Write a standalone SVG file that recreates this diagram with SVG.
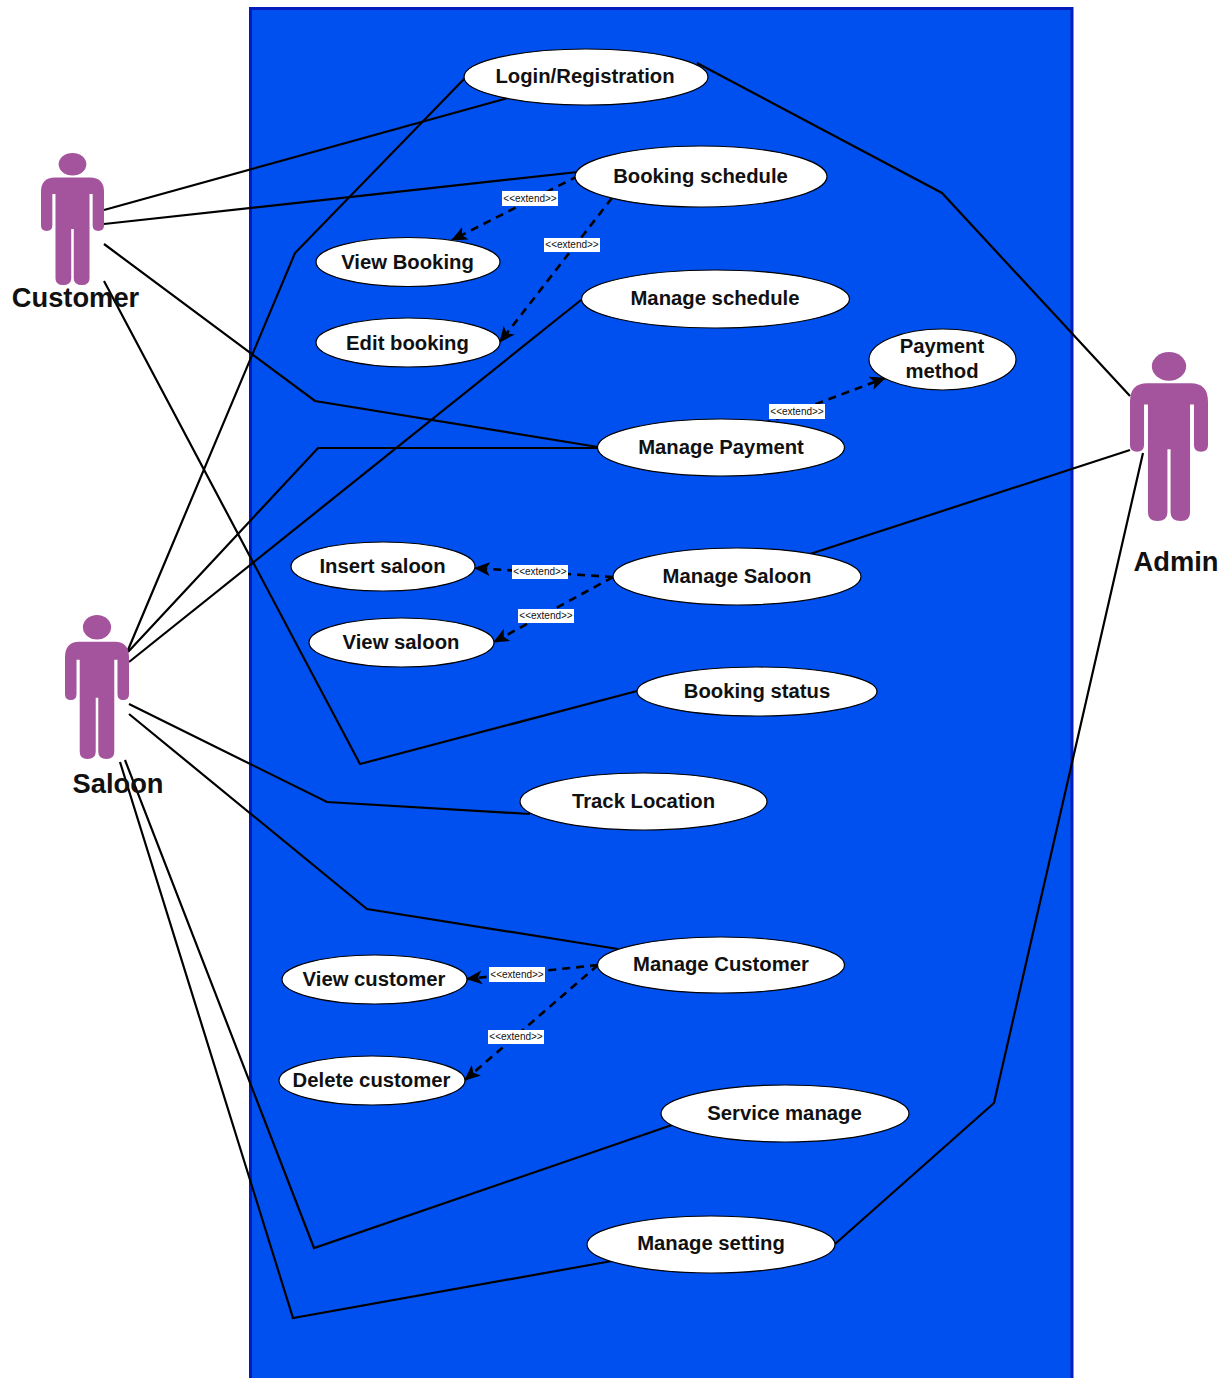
<svg xmlns="http://www.w3.org/2000/svg" width="1225" height="1378" viewBox="0 0 1225 1378">
<style>
.uc{fill:#fff;stroke:#000;stroke-width:1.2}
.t{font-family:"Liberation Sans",Arial,sans-serif;font-weight:700;font-size:20.3px;fill:#111;text-anchor:middle}
.a{font-family:"Liberation Sans",Arial,sans-serif;font-weight:700;font-size:27.3px;fill:#111;text-anchor:middle}
.c{fill:none;stroke:#000;stroke-width:2.2}
.d{fill:none;stroke:#000;stroke-width:2.6;stroke-dasharray:8 6;marker-end:url(#arr)}
.lb{fill:#fff}
.lt{font-family:"Liberation Sans",Arial,sans-serif;font-size:10px;fill:#111;text-anchor:middle}
.fig{fill:#A4549C}
</style>
<defs>
<marker id="arr" markerUnits="userSpaceOnUse" markerWidth="17" markerHeight="15" refX="15" refY="7" orient="auto"><path d="M0 0L16 7L0 14L4 7Z" fill="#000"/></marker>
<symbol id="actor" viewBox="0 0 100 200" preserveAspectRatio="none">
<ellipse class="fig" cx="50" cy="17" rx="22" ry="17"/>
<path class="fig" d="M22 37H78Q100 37 100 59V110Q100 118 91 118Q82 118 82 110V62H77V190Q77 200 65 200Q52 200 52 190V115H48V190Q48 200 35 200Q23 200 23 190V62H18V110Q18 118 9 118Q0 118 0 110V59Q0 37 22 37Z"/>
</symbol>
</defs>
<rect id="boundary" x="250.500" y="8.500" width="821.500" height="1380" fill="#0050EF" stroke="#001DBC" stroke-width="3"/>
<g id="connectors">
<path class="c" d="M104 210L508 98"/>
<path class="c" d="M104 224L578 172"/>
<path class="c" d="M104 244L315 401L598 447"/>
<path class="c" d="M104 281L360 764L637 691"/>
<path class="c" d="M128 650L295 253L466 77"/>
<path class="c" d="M128 652L318 448H598"/>
<path class="c" d="M129 662L581 300"/>
<path class="c" d="M129 704L327 802L530 814"/>
<path class="c" d="M129 714L367 909L618 949"/>
<path class="c" d="M125 760L314 1248L672 1125"/>
<path class="c" d="M120 762L293 1318L612 1261"/>
<path class="c" d="M697 63L942 193L1130 396"/>
<path class="c" d="M810 554L1130 450"/>
<path class="c" d="M835 1244L994 1103L1143 453"/>
<path class="d" d="M578 176L452 240"/>
<path class="d" d="M612 198L500 342"/>
<path class="d" d="M763 424L885 378"/>
<path class="d" d="M613 577L475 568"/>
<path class="d" d="M613 577L494 642"/>
<path class="d" d="M598 965L467 979"/>
<path class="d" d="M598 965L465 1080"/>
<g id="labels">
<rect class="lb" x="502" y="191" width="56" height="15"/><text class="lt" x="530" y="202">&lt;&lt;extend&gt;&gt;</text>
<rect class="lb" x="544" y="238" width="56" height="14"/><text class="lt" x="572" y="248">&lt;&lt;extend&gt;&gt;</text>
<rect class="lb" x="769" y="404" width="56" height="15"/><text class="lt" x="797" y="415">&lt;&lt;extend&gt;&gt;</text>
<rect class="lb" x="512" y="565" width="56" height="14"/><text class="lt" x="540" y="575">&lt;&lt;extend&gt;&gt;</text>
<rect class="lb" x="518" y="609" width="56" height="14"/><text class="lt" x="546" y="619">&lt;&lt;extend&gt;&gt;</text>
<rect class="lb" x="489" y="967" width="56" height="15"/><text class="lt" x="517" y="978">&lt;&lt;extend&gt;&gt;</text>
<rect class="lb" x="488" y="1030" width="56" height="14"/><text class="lt" x="516" y="1040">&lt;&lt;extend&gt;&gt;</text>
</g>
</g>
<g id="customer"><use href="#actor" x="41" y="153" width="63" height="132"/><text class="a" x="75.500" y="307">Customer</text></g>
<g id="saloon"><use href="#actor" x="65" y="615" width="64" height="144"/><text class="a" x="118" y="793">Saloon</text></g>
<g id="admin"><use href="#actor" x="1130" y="352" width="78" height="169"/><text class="a" x="1176" y="571">Admin</text></g>
<g id="login"><ellipse class="uc" cx="586" cy="77" rx="122" ry="28"/><text class="t" x="585" y="83">Login/Registration</text></g>
<g id="booking-schedule"><ellipse class="uc" cx="701" cy="176.500" rx="126" ry="30.500"/><text class="t" x="700.500" y="183">Booking schedule</text></g>
<g id="view-booking"><ellipse class="uc" cx="408" cy="262" rx="92" ry="24.500"/><text class="t" x="407.500" y="269">View Booking</text></g>
<g id="edit-booking"><ellipse class="uc" cx="408" cy="342.500" rx="92" ry="24.500"/><text class="t" x="407.500" y="350">Edit booking</text></g>
<g id="manage-schedule"><ellipse class="uc" cx="715.500" cy="299" rx="134" ry="29"/><text class="t" x="715" y="305">Manage schedule</text></g>
<g id="payment-method"><ellipse class="uc" cx="942.500" cy="359.500" rx="73.500" ry="30.500"/><text class="t" x="942" y="353">Payment</text><text class="t" x="942" y="378">method</text></g>
<g id="manage-payment"><ellipse class="uc" cx="721" cy="447.500" rx="123.500" ry="28.500"/><text class="t" x="721" y="454">Manage Payment</text></g>
<g id="insert-saloon"><ellipse class="uc" cx="383" cy="566.500" rx="92" ry="24.500"/><text class="t" x="382.500" y="573">Insert saloon</text></g>
<g id="manage-saloon"><ellipse class="uc" cx="737" cy="576.500" rx="124" ry="28.500"/><text class="t" x="737" y="583">Manage Saloon</text></g>
<g id="view-saloon"><ellipse class="uc" cx="401.500" cy="642.500" rx="92.500" ry="24.500"/><text class="t" x="401" y="649">View saloon</text></g>
<g id="booking-status"><ellipse class="uc" cx="757" cy="691.500" rx="120" ry="24.500"/><text class="t" x="757" y="698">Booking status</text></g>
<g id="track-location"><ellipse class="uc" cx="643.500" cy="801.500" rx="123.500" ry="28.500"/><text class="t" x="643.500" y="808">Track Location</text></g>
<g id="manage-customer"><ellipse class="uc" cx="721" cy="965" rx="123.500" ry="28"/><text class="t" x="721" y="971">Manage Customer</text></g>
<g id="view-customer"><ellipse class="uc" cx="374.500" cy="979.500" rx="92.500" ry="24.500"/><text class="t" x="374" y="986">View customer</text></g>
<g id="delete-customer"><ellipse class="uc" cx="372" cy="1080.500" rx="93" ry="24.500"/><text class="t" x="371.500" y="1087">Delete customer</text></g>
<g id="service-manage"><ellipse class="uc" cx="785" cy="1113.500" rx="124" ry="28.500"/><text class="t" x="784.500" y="1120">Service manage</text></g>
<g id="manage-setting"><ellipse class="uc" cx="711" cy="1244.500" rx="124" ry="28.500"/><text class="t" x="711" y="1250">Manage setting</text></g>
</svg>
